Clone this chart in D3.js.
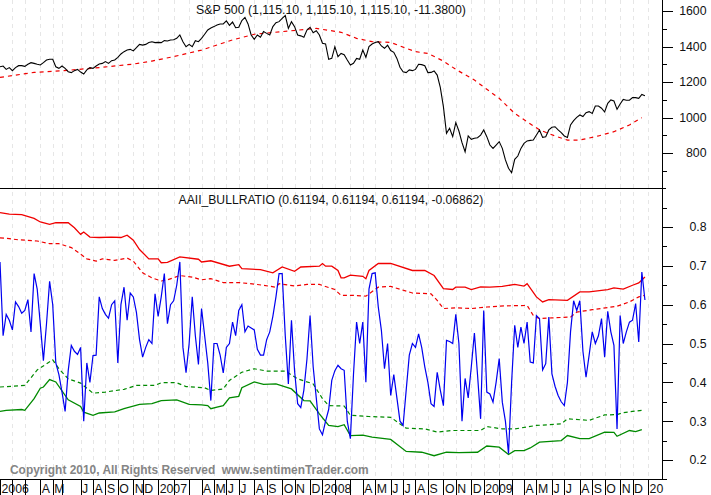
<!DOCTYPE html>
<html>
<head>
<meta charset="utf-8">
<script src="https://cdn.jsdelivr.net/npm/d3@7"></script>
<style>
  html, body { margin: 0; padding: 0; background: #fff; overflow: hidden; }
  text { font-family: "Liberation Sans", Arial, sans-serif; font-size: 12px; fill: #111; }
  .axis path, .axis line { stroke: #000; shape-rendering: crispEdges; }
  .series { fill: none; }
</style>
</head>
<body>
<svg id="chart" width="711" height="495"></svg>
<script>
"use strict";

// weekly closes, week 0 = first week of 2006
var sp500 = [1286,1290,1271,1281,1264,1281,1292,1292,1288,1300,1309,1305,1300,1296,1309,1324,1328,1328,1286,1277,
  1290,1277,1258,1253,1264,1271,1256,1245,1268,1281,1277,1290,1301,1305,1315,1305,1320,1324,1339,1358,
  1371,1380,1384,1375,1393,1412,1408,1412,1422,1427,1422,1423,1422,1433,1431,1437,1438,1446,1465,1427,
  1399,1412,1399,1433,1427,1446,1469,1493,1504,1512,1521,1527,1527,1544,1519,1538,1506,1508,1546,1564,
  1527,1465,1440,1465,1452,1484,1474,1465,1512,1534,1540,1559,1574,1502,1540,1512,1465,1460,1452,1493,
  1508,1478,1489,1465,1418,1414,1328,1333,1399,1343,1361,1354,1324,1296,1305,1333,1328,1380,1339,1399,
  1414,1422,1427,1403,1390,1407,1377,1367,1333,1283,1258,1253,1268,1264,1271,1300,1298,1292,1253,1254,
  1262,1239,1170,1061,911,939,892,971,924,858,807,896,877,883,886,901,930,892,845,826,
  845,864,826,761,714,689,764,783,826,854,868,871,873,901,930,888,892,930,945,948,
  930,915,896,888,958,982,1001,1014,1005,1027,1033,1023,1065,1065,1052,1031,1080,1099,1093,1046,
  1076,1102,1097,1097,1112,1112,1108,1130,1123];

var spAvgWeeks = [0,11,22,32,43,49,56,65,75,82,91,102,110,115,120,126,131,134,138,143,147,153,157,161,166,170,174,179,183,187,193,198,203,207];
var spAvg = [1226,1254,1266,1281,1301,1318,1343,1380,1437,1469,1484,1502,1480,1446,1427,1423,1390,1371,1361,1318,1271,1211,1159,1108,1023,976,930,896,873,873,896,920,958,999];

var bullRatio = [.71,.52,.575,.56,.535,.607,.595,.578,.585,.613,.53,.68,.64,.55,.456,.551,.66,.60,.45,.42,
  .375,.325,.43,.495,.48,.472,.49,.30,.45,.40,.469,.47,.62,.59,.575,.565,.60,.61,.45,.60,
  .645,.56,.63,.62,.58,.51,.465,.49,.51,.50,.628,.57,.62,.68,.551,.60,.61,.65,.71,.49,
  .425,.50,.62,.52,.446,.59,.52,.45,.353,.50,.50,.47,.424,.49,.50,.555,.52,.585,.60,.53,
  .545,.54,.535,.485,.47,.47,.51,.53,.57,.62,.68,.68,.52,.396,.56,.43,.345,.335,.38,.46,
  .572,.44,.36,.28,.265,.30,.33,.405,.43,.444,.435,.431,.30,.255,.42,.555,.50,.555,.40,.64,
  .68,.682,.594,.534,.435,.50,.366,.42,.36,.30,.289,.38,.47,.50,.49,.525,.49,.44,.40,.345,
  .338,.426,.38,.34,.508,.505,.50,.575,.50,.30,.41,.36,.44,.527,.42,.306,.585,.375,.37,.349,
  .40,.461,.349,.30,.216,.40,.547,.49,.542,.50,.555,.452,.45,.572,.564,.432,.448,.568,.422,.39,
  .366,.35,.34,.40,.53,.61,.585,.61,.48,.413,.47,.53,.50,.52,.564,.465,.583,.53,.495,.28,
  .572,.50,.53,.555,.56,.603,.504,.684,.612];

var upperWeeks = [0,3,7,11,13,16,18,22,24,26,27,29,32,36,39,41,43,45,48,51,52,54,58,64,65,68,74,77,78,84,88,91,95,97,103,104,105,107,109,110,111,113,117,118,119,122,126,133,137,140,143,146,147,150,152,155,158,162,166,169,170,173,175,177,183,187,190,196,198,201,204,206,208];
var upperBand = [.837,.833,.832,.822,.813,.807,.811,.811,.798,.781,.787,.774,.773,.774,.773,.779,.766,.742,.718,.718,.708,.709,.723,.717,.710,.713,.699,.703,.693,.690,.682,.697,.686,.697,.699,.706,.699,.699,.688,.669,.669,.676,.673,.667,.688,.706,.706,.688,.688,.675,.641,.639,.645,.645,.639,.646,.645,.647,.652,.648,.654,.620,.607,.613,.611,.633,.633,.639,.643,.640,.650,.656,.671];

var upperInnerWeeks = [0,3,6,12,16,19,23,26,28,31,33,37,41,43,46,49,52,54,58,62,65,68,72,77,83,89,90,95,99,103,108,110,114,118,122,126,133,139,141,143,147,152,157,163,170,172,174,178,184,186,191,199,203,206,208];
var upperInner = [.772,.770,.767,.764,.757,.757,.747,.730,.718,.712,.718,.714,.720,.712,.682,.669,.661,.664,.675,.671,.664,.667,.657,.657,.652,.645,.654,.648,.652,.652,.639,.624,.624,.622,.645,.647,.630,.628,.611,.590,.592,.590,.594,.597,.598,.572,.564,.566,.568,.581,.587,.596,.607,.620,.624];

var lowerInnerWeeks = [0,4,8,12,17,19,22,26,30,34,40,44,50,52,57,60,66,68,72,74,78,82,86,92,96,101,104,106,111,113,119,126,131,137,141,146,155,157,162,166,173,181,183,190,195,199,201,207];
var lowerInner = [.388,.390,.392,.432,.458,.435,.409,.398,.372,.375,.382,.392,.392,.399,.399,.389,.386,.379,.383,.405,.426,.435,.429,.429,.409,.396,.358,.340,.339,.315,.312,.310,.282,.280,.272,.276,.276,.286,.280,.280,.289,.293,.306,.302,.316,.317,.322,.328];

var lowerWeeks = [0,2,7,8,11,13,14,16,18,22,26,27,30,32,37,40,45,49,52,57,61,65,67,68,70,72,74,77,78,82,85,89,94,98,100,103,106,109,111,113,117,120,126,131,136,140,144,148,154,157,161,164,166,169,171,174,181,183,187,190,195,198,199,203,205,207];
var lowerBand = [.325,.328,.330,.328,.358,.385,.388,.407,.401,.355,.338,.323,.315,.321,.324,.332,.343,.345,.353,.355,.343,.342,.340,.332,.336,.340,.360,.364,.386,.401,.395,.396,.383,.353,.352,.319,.289,.286,.291,.263,.264,.259,.253,.222,.220,.211,.220,.219,.220,.236,.233,.214,.224,.224,.231,.246,.250,.263,.255,.255,.272,.271,.261,.276,.273,.278];

var spTicks = [800,1000,1200,1400,1600];
var spMinorTicks = [700,900,1100,1300,1500];
var bullTicks = [.2,.3,.4,.5,.6,.7,.8];
var bullMinorTicks = [.15,.25,.35,.45,.55,.65,.75,.85];

// week of each month start and its label, blank where the label would not fit
var monthWeeks = [0,4,8,13,17,20,26,30,34,38,43,46,51,56,61,65,69,73,77,82,86,91,95,100,104,108,113,117,121,126,130,134,138,143,147,152,156,161,165,169,173,178,182,187,191,195,200,204,209];
var monthLabels = ["2006","","","A","M","","J","A","S","O","N","D","2007","","","A","M","J","J","A","S","O","N","D","2008","","","A","M","J","J","A","S","O","N","D","2009","","","A","M","J","J","A","S","O","N","D","20"];

var titleTop = "S&P 500 (1,115.10, 1,115.10, 1,115.10, -11.3800)";
var titleBottom = "AAII_BULLRATIO (0.61194, 0.61194, 0.61194, -0.06862)";
var copyright = "Copyright 2010, All Rights Reserved  www.sentimenTrader.com";

var plotRight = 662;
var svg = d3.select("#chart");

var x = d3.scaleLinear().domain([0, 213.5]).range([0, plotRight]);
var yTop = d3.scaleLinear().domain([800, 1600]).range([153, 11]);
var yBottom = d3.scaleLinear().domain([.2, .8]).range([460, 227]);

// month grid
svg.append("g").selectAll("line")
  .data(monthWeeks.slice(1))
  .enter().append("line")
    .attr("x1", function(d) { return Math.round(x(d)) + .5; })
    .attr("x2", function(d) { return Math.round(x(d)) + .5; })
    .attr("y1", 0)
    .attr("y2", 479)
    .attr("stroke", "#e6e6e6")
    .attr("stroke-dasharray", "4,4")
    .attr("shape-rendering", "crispEdges");

function drawBand(weeks, values, y, color, dash, width) {
  var line = d3.line()
    .x(function(d, i) { return x(weeks[i]); })
    .y(function(d) { return y(d); });
  svg.append("path")
    .datum(values)
    .attr("class", "series")
    .attr("d", line)
    .attr("stroke", color)
    .attr("stroke-width", width)
    .attr("stroke-dasharray", dash);
}

var allWeeks = d3.range(0, 209);

drawBand(spAvgWeeks, spAvg, yTop, "#f00000", "4,4", 1.2);
drawBand(allWeeks, sp500, yTop, "#000", null, 1.1);

drawBand(upperWeeks, upperBand, yBottom, "#f00000", null, 1.3);
drawBand(upperInnerWeeks, upperInner, yBottom, "#f00000", "4,3", 1.2);
drawBand(lowerInnerWeeks, lowerInner, yBottom, "#008a00", "4,3", 1.2);
drawBand(lowerWeeks, lowerBand, yBottom, "#008a00", null, 1.3);
drawBand(allWeeks, bullRatio, yBottom, "#0000f0", null, 1.2);

// price axes
function drawYAxis(scale, ticks, minorTicks, format) {
  var major = svg.append("g")
    .attr("class", "axis")
    .attr("transform", "translate(" + plotRight + ".5,0)")
    .call(d3.axisRight(scale).tickValues(ticks).tickSize(10).tickFormat(format));
  major.select(".domain").remove();
  major.selectAll("text")
    .attr("x", 44)
    .attr("text-anchor", "end")
    .style("font-size", "12.3px");

  var minor = svg.append("g")
    .attr("class", "axis")
    .attr("transform", "translate(" + plotRight + ".5,0)")
    .call(d3.axisRight(scale).tickValues(minorTicks).tickSize(4).tickFormat(""));
  minor.select(".domain").remove();
}

drawYAxis(yTop, spTicks, spMinorTicks, d3.format("d"));
drawYAxis(yBottom, bullTicks, bullMinorTicks, d3.format(".1f"));

// month axis, label sits right of its separator
var monthAxis = svg.append("g")
  .attr("class", "axis")
  .attr("transform", "translate(0,479.5)")
  .call(d3.axisBottom(x).tickValues(monthWeeks).tickSize(16)
    .tickFormat(function(d, i) { return monthLabels[i]; }));
monthAxis.select(".domain").remove();
monthAxis.selectAll("text")
  .attr("x", 1)
  .attr("y", 5)
  .attr("dy", ".71em")
  .attr("text-anchor", "start")
  .style("font-size", "12.3px");

svg.append("line")
  .attr("x1", plotRight + .5).attr("x2", plotRight + .5)
  .attr("y1", 0).attr("y2", 480)
  .attr("stroke", "#000").attr("shape-rendering", "crispEdges");
svg.append("line")
  .attr("x1", 0).attr("x2", plotRight + 4)
  .attr("y1", 188.5).attr("y2", 188.5)
  .attr("stroke", "#000").attr("shape-rendering", "crispEdges");
svg.append("line")
  .attr("x1", 0).attr("x2", plotRight + 4)
  .attr("y1", 479.5).attr("y2", 479.5)
  .attr("stroke", "#000").attr("shape-rendering", "crispEdges");

svg.append("text").attr("x", 331).attr("y", 14).attr("text-anchor", "middle").style("font-size", "12.35px").text(titleTop);
svg.append("text").attr("x", 331).attr("y", 204).attr("text-anchor", "middle").style("font-size", "12.15px").text(titleBottom);
svg.append("text")
  .attr("x", 10).attr("y", 474)
  .attr("xml:space", "preserve")
  .style("font-weight", "bold")
  .style("font-size", "11.95px")
  .style("fill", "#858585")
  .text(copyright);
</script>
</body>
</html>
